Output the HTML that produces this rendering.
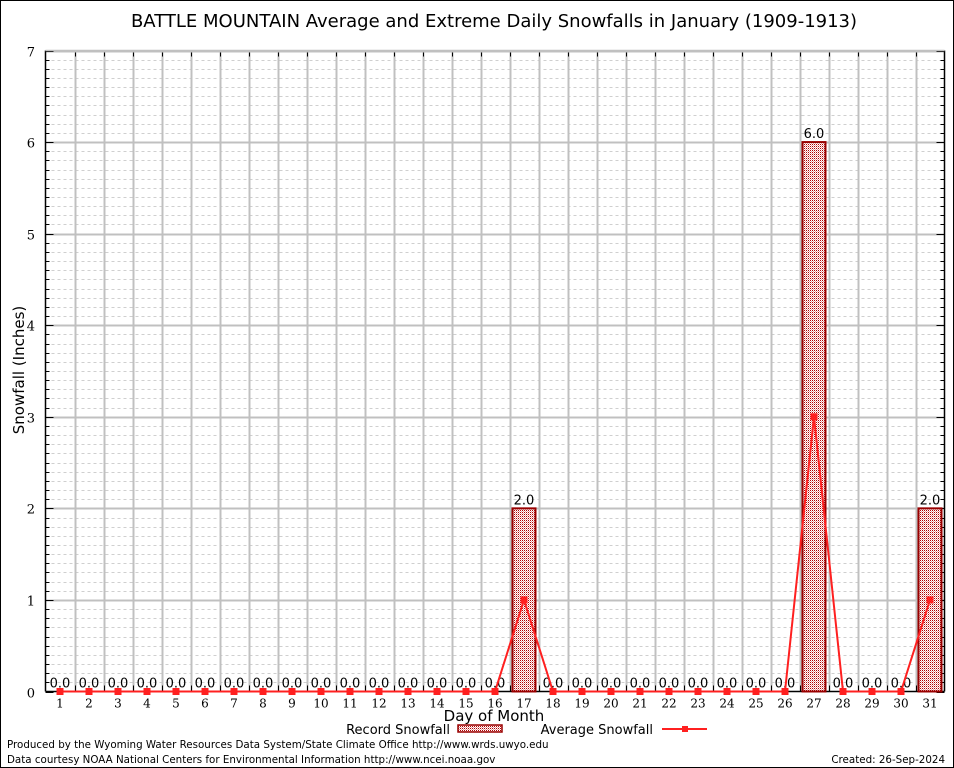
<!DOCTYPE html>
<html><head><meta charset="utf-8"><style>
html,body{margin:0;padding:0;background:#fff}
svg{display:block}
text{font-family:"DejaVu Sans","Liberation Sans",sans-serif}
.ser{font-family:"DejaVu Serif","Liberation Serif",serif}
</style></head><body>
<svg id="chart" width="954" height="768" viewBox="0 0 954 768" xmlns="http://www.w3.org/2000/svg">
<defs>
<pattern id="chk" width="2" height="2" patternUnits="userSpaceOnUse">
<rect width="2" height="2" fill="#fff"/><rect width="1" height="1" fill="#b00000"/><rect x="1" y="1" width="1" height="1" fill="#e8a0a0"/>
</pattern>
</defs>
<rect x="0.5" y="0.5" width="953" height="767" fill="#fff" stroke="#000"/>
<text x="494" y="27" text-anchor="middle" font-size="18">BATTLE MOUNTAIN Average and Extreme Daily Snowfalls in January (1909-1913)</text>
<g id="grid"></g>
<g id="marks"></g>
<text transform="translate(24,370) rotate(-90)" text-anchor="middle" font-size="15">Snowfall (Inches)</text>
<text x="494" y="721" text-anchor="middle" font-size="15">Day of Month</text>
<g>
<text x="450" y="734" text-anchor="end" font-size="13">Record Snowfall</text>
<rect x="458" y="725" width="44" height="7" fill="url(#chk)" stroke="#990000" stroke-width="1.5"/>
<text x="653" y="734" text-anchor="end" font-size="13">Average Snowfall</text>
<line x1="662" y1="729" x2="707" y2="729" stroke="#ff2020" stroke-width="2"/>
<rect x="682" y="726" width="6" height="6" fill="#ff2020"/>
</g>
<text x="7" y="748" font-size="10.3">Produced by the Wyoming Water Resources Data System/State Climate Office http://www.wrds.uwyo.edu</text>
<text x="7" y="763" font-size="10.3">Data courtesy NOAA National Centers for Environmental Information http://www.ncei.noaa.gov</text>
<text x="945" y="763" text-anchor="end" font-size="10.3">Created: 26-Sep-2024</text>
</svg>
<script>
const days = [1,2,3,4,5,6,7,8,9,10,11,12,13,14,15,16,17,18,19,20,21,22,23,24,25,26,27,28,29,30,31];
const recordSnow = [0,0,0,0,0,0,0,0,0,0,0,0,0,0,0,0,2,0,0,0,0,0,0,0,0,0,6,0,0,0,2];
const avgSnow = [0,0,0,0,0,0,0,0,0,0,0,0,0,0,0,0,1,0,0,0,0,0,0,0,0,0,3,0,0,0,1];
const yTicks = [0,1,2,3,4,5,6,7];

const L=45.5,R=944.5,T=50.5,B=691.5,YMAX=7;
const step=(R-L)/days.length;
function xs(i){return L+step*(i+0.5);}
function ys(v){return B-(B-T)*v/YMAX;}
const NS="http://www.w3.org/2000/svg";
function mk(tag,attrs,parent){const e=document.createElementNS(NS,tag);for(const k in attrs)e.setAttribute(k,attrs[k]);parent.appendChild(e);return e;}
const grid=document.getElementById('grid'),marks=document.getElementById('marks');

for(let k=1;k<YMAX*10;k++){if(k%10===0)continue;const y=Math.round(ys(k/10))+0.5;
const l=mk('line',{x1:L,x2:R,y1:y,y2:y,stroke:'#cfcfcf','stroke-dasharray':'3,3','stroke-width':1},grid);


const t1=mk('line',{x1:L,x2:L+4,y1:y,y2:y,stroke:'#000'},grid);


const t2=mk('line',{x1:R-4,x2:R,y1:y,y2:y,stroke:'#000'},grid);

}
for(let i=1;i<days.length;i++){const x=Math.round(L+step*i)+0.5;
const l=mk('line',{x1:x,x2:x,y1:T,y2:B,stroke:'#c0c0c0','stroke-width':2},grid);


const t=mk('line',{x1:x,x2:x,y1:B,y2:B-6,stroke:'#000'},grid);


const t2=mk('line',{x1:x,x2:x,y1:T,y2:T+6,stroke:'#000'},grid);

}
yTicks.forEach(v=>{const y=Math.round(ys(v))+0.5;
if(v>0){const l=mk('line',{x1:L,x2:R,y1:y,y2:y,stroke:'#c0c0c0','stroke-width':2},grid);

}
const t=mk('line',{x1:L,x2:L+8,y1:y,y2:y,stroke:'#000'},grid);


const t3=mk('line',{x1:R-8,x2:R,y1:y,y2:y,stroke:'#000'},grid);


const tx=mk('text',{x:35,y:y+5,'text-anchor':'end','font-size':13,class:'ser'},grid);tx.textContent=v;

});
const ax1=mk('line',{x1:L,x2:L,y1:T,y2:B,stroke:'#000','stroke-width':1.5},grid);


const ax2=mk('line',{x1:R,x2:R,y1:T,y2:B,stroke:'#000','stroke-width':1.5},grid);


const ax3=mk('line',{x1:L,x2:R,y1:B,y2:B,stroke:'#000','stroke-width':1.5},grid);


const ax4=mk('line',{x1:L,x2:R,y1:T,y2:T,stroke:'#c0c0c0','stroke-width':1.5},grid);



days.forEach((d,i)=>{const v=recordSnow[i];const cx=xs(i);
if(v>0){const b=mk('rect',{x:cx-11.5,y:ys(v),width:23,height:B-ys(v),fill:'url(#chk)',stroke:'#990000','stroke-width':2},marks);

}
const lb=mk('text',{x:cx,y:ys(v)-4,'text-anchor':'middle','font-size':13},marks);lb.textContent=v.toFixed(1);


const xl=mk('text',{x:cx,y:B+16,'text-anchor':'middle','font-size':12,class:'ser'},marks);xl.textContent=d;

});
const pts=days.map((d,i)=>xs(i)+','+ys(avgSnow[i])).join(' ');
const pl=mk('polyline',{points:pts,fill:'none',stroke:'#ff2020','stroke-width':2},marks);


days.forEach((d,i)=>{const p=mk('rect',{x:xs(i)-3.5,y:ys(avgSnow[i])-3.5,width:7,height:7,fill:'#ff2020'},marks);

});
</script>
</body></html>
